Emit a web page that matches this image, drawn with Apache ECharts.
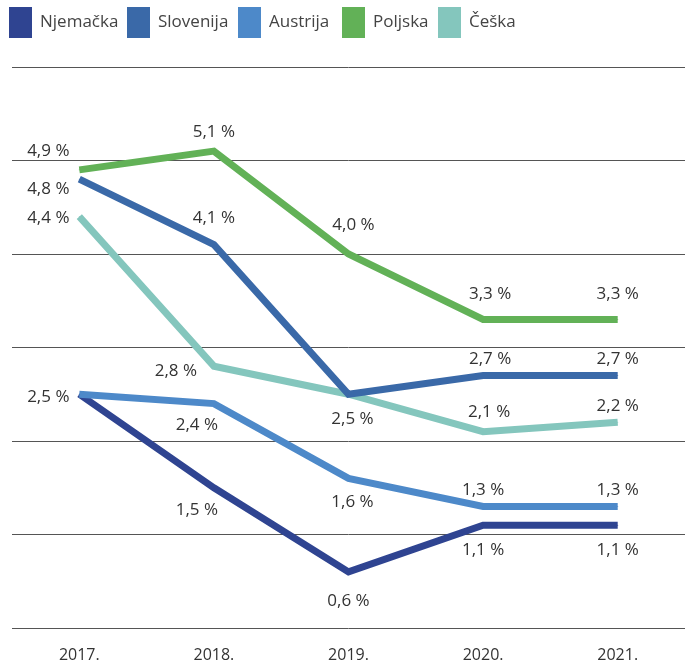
<!DOCTYPE html>
<html>
<head>
<meta charset="utf-8">
<script src="https://cdn.jsdelivr.net/npm/echarts@6/dist/echarts.min.js"></script>
<style>
  html, body { margin: 0; padding: 0; background: #fff; }
  #chart { width: 699px; height: 666px; }
</style>
</head>
<body>
<div id="chart"></div>
<script>
// podaci
const years = ['2017.', '2018.', '2019.', '2020.', '2021.']
const countries = ['Njemačka', 'Slovenija', 'Austrija', 'Poljska', 'Češka']
const njemacka = [2.5, 1.5, 0.6, 1.1, 1.1]
const slovenija = [4.8, 4.1, 2.5, 2.7, 2.7]
const austrija = [2.5, 2.4, 1.6, 1.3, 1.3]
const poljska = [4.9, 5.1, 4.0, 3.3, 3.3]
const ceska = [4.4, 2.8, 2.5, 2.1, 2.2]

// pomaci oznaka (null = bez oznake)
const offNjemacka = [null, [-17, 22], [0, 29], [0, 25], [0, 25]]
const offSlovenija = [[-31, 10], [0, -26], [4, 25], [7, -16], [0, -16]]
const offAustrija = [[-31, 3], [-17, 22], [4, 24], [0, -16], [0, -16]]
const offPoljska = [[-31, -19], [0, -19], [5, -29], [7, -25], [0, -25]]
const offCeska = [[-31, 2], [-38, 5], null, [6, -19], [0, -16]]

// položaj legende (lijevi rub ikone)
const legendLeft = [9, 127, 238, 342, 438]

const fmt = v => v.toFixed(1).replace('.', ',') + ' %'

const buildData = (values, offsets) => values.map((v, i) => {
  const off = offsets[i]
  if (!off) {
    return { value: v, label: { show: false } }
  }
  return { value: v, label: { show: true, position: 'inside', offset: off } }
})

const makeSeries = (name, values, offsets, color, z) => ({
  name: name,
  type: 'line',
  z: z,
  data: buildData(values, offsets),
  symbol: 'circle',
  symbolSize: 1,
  itemStyle: { color: color },
  lineStyle: { color: color, width: 7, cap: 'butt', join: 'miter' },
  label: {
    show: true,
    formatter: p => fmt(p.value),
    fontFamily: 'Open Sans',
    fontSize: 17,
    color: '#333'
  },
  emphasis: { disabled: true }
})

const chart = echarts.init(document.getElementById('chart'))

chart.setOption({
  animation: false,
  textStyle: { fontFamily: 'Open Sans' },
  legend: countries.map((name, i) => ({
    left: legendLeft[i],
    top: 7,
    padding: 0,
    icon: 'rect',
    itemWidth: 23,
    itemHeight: 31,
    textStyle: {
      fontFamily: 'Open Sans',
      fontSize: 17,
      color: '#444',
      padding: [0, 0, 0, 3]
    },
    data: [name]
  })),
  grid: { left: 12, right: 14, top: 67, bottom: 38 },
  xAxis: {
    type: 'category',
    data: years,
    boundaryGap: true,
    axisLine: { show: false },
    axisTick: { show: false },
    axisLabel: { fontSize: 16, color: '#333', margin: 19 }
  },
  yAxis: {
    type: 'value',
    min: 0,
    max: 6,
    interval: 1,
    axisLabel: { show: false },
    axisLine: { show: false },
    axisTick: { show: false },
    splitLine: { lineStyle: { color: '#555', width: 1 } }
  },
  series: [
    makeSeries('Njemačka', njemacka, offNjemacka, '#2f4491', 3),
    makeSeries('Slovenija', slovenija, offSlovenija, '#3a69a8', 3),
    makeSeries('Austrija', austrija, offAustrija, '#4d89c9', 3),
    makeSeries('Poljska', poljska, offPoljska, '#62b157', 3),
    makeSeries('Češka', ceska, offCeska, '#84c6bd', 2)
  ]
})
</script>
</body>
</html>
